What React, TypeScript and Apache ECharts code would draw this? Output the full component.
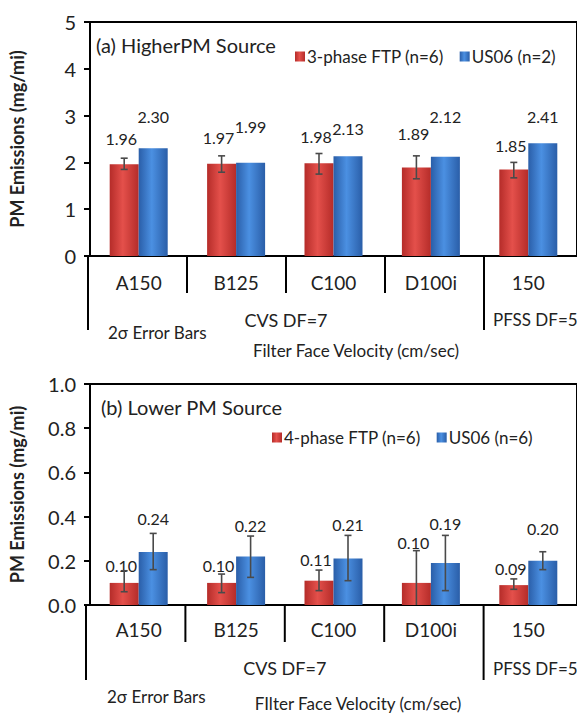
import React, { useEffect, useRef } from "react";
import * as echarts from "echarts";

const categories = ["A150", "B125", "C100", "D100i", "150"];

// (a) Higher PM source
const ftpHigh = [1.96, 1.97, 1.98, 1.89, 1.85];
const us06High = [2.3, 1.99, 2.13, 2.12, 2.41];
const ftpHighErrLow = [1.85, 1.79, 1.75, 1.65, 1.67];
const ftpHighErrHigh = [2.09, 2.14, 2.19, 2.14, 2.0];

// (b) Lower PM source
const ftpLow = [0.1, 0.1, 0.11, 0.1, 0.09];
const us06Low = [0.24, 0.22, 0.21, 0.19, 0.2];
const ftpLowErrLow = [0.06, 0.056, 0.065, -0.046, 0.071];
const ftpLowErrHigh = [0.155, 0.14, 0.158, 0.246, 0.118];
const us06LowErrLow = [0.16, 0.125, 0.11, 0.065, 0.16];
const us06LowErrHigh = [0.324, 0.312, 0.315, 0.315, 0.241];

const topTicks = [0, 1, 2, 3, 4, 5];
const bottomTicks = [0, 0.2, 0.4, 0.6, 0.8, 1.0];

// layout (styling, not data)
const FONT = "Lato, 'Open Sans', sans-serif";
const BAR_W = 29;
const G1 = { left: 88, top: 22, width: 495, height: 234 };
const G2 = { left: 86, top: 384, width: 497, height: 221 };
// label lift (px above bar top to label center)
const lift1Red = [27, 27, 28, 35, 25];
const lift1Blue = [33, 37, 29, 41, 28];
const lift2Red = [18, 18, 22, 41, 18];
const lift2Blue = [34, 32, 35, 41, 33];

const redGrad = new echarts.graphic.LinearGradient(0, 0, 1, 0, [
  { offset: 0, color: "#b52c29" },
  { offset: 0.45, color: "#e4504b" },
  { offset: 1, color: "#b52c29" },
]);
const blueGrad = new echarts.graphic.LinearGradient(0, 0, 1, 0, [
  { offset: 0, color: "#2a5ea8" },
  { offset: 0.45, color: "#4b90e2" },
  { offset: 1, color: "#2a5ea8" },
]);

function barSeries(name: string, values: number[], lifts: number[], color: any, idx: number, dec: number, dx: number) {
  return {
    type: "bar",
    name,
    xAxisIndex: idx,
    yAxisIndex: idx,
    barWidth: BAR_W,
    barGap: "0%",
    itemStyle: { color },
    data: values.map((v, i) => ({
      value: v,
      label: { distance: lifts[i] - 9 },
    })),
    label: {
      show: true,
      position: "top",
      offset: [dx, 0],
      fontFamily: FONT,
      fontSize: 16,
      color: "#222",
      formatter: (p: any) => Number(p.value).toFixed(dec),
    },
  };
}

function errSeries(lo: number[], hi: number[], idx: number, shift: number) {
  return {
    type: "custom",
    xAxisIndex: idx,
    yAxisIndex: idx,
    z: 5,
    clip: true,
    silent: true,
    encode: { x: 0, y: [1, 2] },
    data: lo.map((l, i) => [i, l, hi[i]]),
    renderItem: (params: any, api: any) => {
      const c = api.value(0);
      const pLo = api.coord([c, api.value(1)]);
      const pHi = api.coord([c, api.value(2)]);
      const x = pLo[0] + shift;
      const style = { stroke: "#4a4a4a", lineWidth: 1.6 };
      const cw = 3.5;
      return {
        type: "group",
        children: [
          { type: "line", shape: { x1: x, y1: pLo[1], x2: x, y2: pHi[1] }, style },
          { type: "line", shape: { x1: x - cw, y1: pHi[1], x2: x + cw, y2: pHi[1] }, style },
          { type: "line", shape: { x1: x - cw, y1: pLo[1], x2: x + cw, y2: pLo[1] }, style },
        ],
      };
    },
  };
}

function xAxis(idx: number) {
  return {
    type: "category",
    gridIndex: idx,
    data: categories,
    axisLine: { lineStyle: { color: "#000", width: 2 } },
    axisTick: { show: false },
    axisLabel: { color: "#222", fontFamily: FONT, fontSize: 19, margin: idx === 0 ? 17 : 15 },
  };
}

function yAxis(idx: number, ticks: number[], dec: number) {
  return {
    type: "value",
    gridIndex: idx,
    min: ticks[0],
    max: ticks[ticks.length - 1],
    interval: ticks[1] - ticks[0],
    name: "PM Emissions (mg/mi)",
    nameLocation: "middle",
    nameGap: 64,
    nameTextStyle: { fontFamily: FONT, fontWeight: "bold", fontSize: 18, color: "#222" },
    axisLine: { show: true, lineStyle: { color: "#000", width: 2 } },
    axisTick: { show: true, length: 6, lineStyle: { color: "#000", width: 2 } },
    axisLabel: {
      color: "#222",
      fontFamily: FONT,
      fontSize: 20,
      margin: 14,
      formatter: (v: number) => v.toFixed(dec),
    },
    splitLine: { show: false },
  };
}

function txt(x: number, y: number, text: string, size: number, align: string = "left") {
  return {
    type: "text",
    x,
    y,
    style: { text, fontFamily: FONT, fontSize: size, fill: "#222", align, verticalAlign: "middle" },
  };
}

function vline(x: number, y1: number, y2: number) {
  return { type: "line", shape: { x1: x, y1, x2: x, y2 }, style: { stroke: "#000", lineWidth: 2 } };
}

function separators(g: { left: number; width: number; top: number; height: number }, longLen: number) {
  const cw = g.width / categories.length;
  const b = g.top + g.height;
  const out: any[] = [];
  for (let i = 0; i < categories.length; i++) {
    const x = g.left + i * cw;
    const long = i === 0 || i === categories.length - 1;
    out.push(vline(x, b, b + (long ? longLen : 37)));
  }
  return out;
}

export default function App() {
  const ref = useRef<HTMLDivElement>(null);
  useEffect(() => {
    if (!ref.current) return;
    const chart = echarts.init(ref.current, null, { renderer: "svg" });
    const cw1 = G1.width / categories.length;
    const cw2 = G2.width / categories.length;
    const option = {
      animation: false,
      backgroundColor: "#fff",
      grid: [
        { ...G1, show: true, borderColor: "#000", borderWidth: 2, backgroundColor: "transparent" },
        { ...G2, show: true, borderColor: "#000", borderWidth: 2, backgroundColor: "transparent" },
      ],
      xAxis: [xAxis(0), xAxis(1)],
      yAxis: [yAxis(0, topTicks, 0), yAxis(1, bottomTicks, 1)],
      legend: [
        {
          left: 290,
          top: 43,
          itemWidth: 10,
          itemHeight: 10,
          itemGap: 16,
          icon: "rect",
          data: ["3-phase FTP (n=6)", "US06 (n=2)"],
          textStyle: { fontFamily: FONT, fontSize: 17, color: "#222", padding: [0, 0, 0, -3] },
        },
        {
          left: 267,
          top: 424,
          itemWidth: 10,
          itemHeight: 10,
          itemGap: 16,
          icon: "rect",
          data: ["4-phase FTP (n=6)", "US06 (n=6)"],
          textStyle: { fontFamily: FONT, fontSize: 17, color: "#222", padding: [0, 0, 0, -3] },
        },
      ],
      series: [
        barSeries("3-phase FTP (n=6)", ftpHigh, lift1Red, redGrad, 0, 2, -3),
        barSeries("US06 (n=2)", us06High, lift1Blue, blueGrad, 0, 2, 0),
        errSeries(ftpHighErrLow, ftpHighErrHigh, 0, -BAR_W / 2),
        barSeries("4-phase FTP (n=6)", ftpLow, lift2Red, redGrad, 1, 2, -3),
        barSeries("US06 (n=6)", us06Low, lift2Blue, blueGrad, 1, 2, 0),
        errSeries(ftpLowErrLow, ftpLowErrHigh, 1, -BAR_W / 2),
        errSeries(us06LowErrLow, us06LowErrHigh, 1, BAR_W / 2),
      ],
      graphic: [
        txt(96, 45, "(a) HigherPM Source", 20),
        ...separators(G1, 74),
        txt(G1.left + 2 * cw1, 320, "CVS DF=7", 18, "center"),
        txt(493, 319, "PFSS DF=5", 17),
        txt(108, 332, "2σ Error Bars", 17),
        txt(356, 350, "Filter Face Velocity (cm/sec)", 17, "center"),

        txt(101, 407, "(b) Lower PM Source", 20),
        ...separators(G2, 75),
        txt(G2.left + 2 * cw2, 668, "CVS DF=7", 18, "center"),
        txt(493, 668, "PFSS DF=5", 17),
        txt(107, 696, "2σ Error Bars", 17),
        txt(358, 703, "FIlter Face Velocity (cm/sec)", 17, "center"),
      ],
    };
    chart.setOption(option as any);
    return () => chart.dispose();
  }, []);
  return (
    <div
      ref={ref}
      style={{ position: "fixed", left: 0, top: 0, width: 577, height: 714, background: "#fff" }}
    />
  );
}
